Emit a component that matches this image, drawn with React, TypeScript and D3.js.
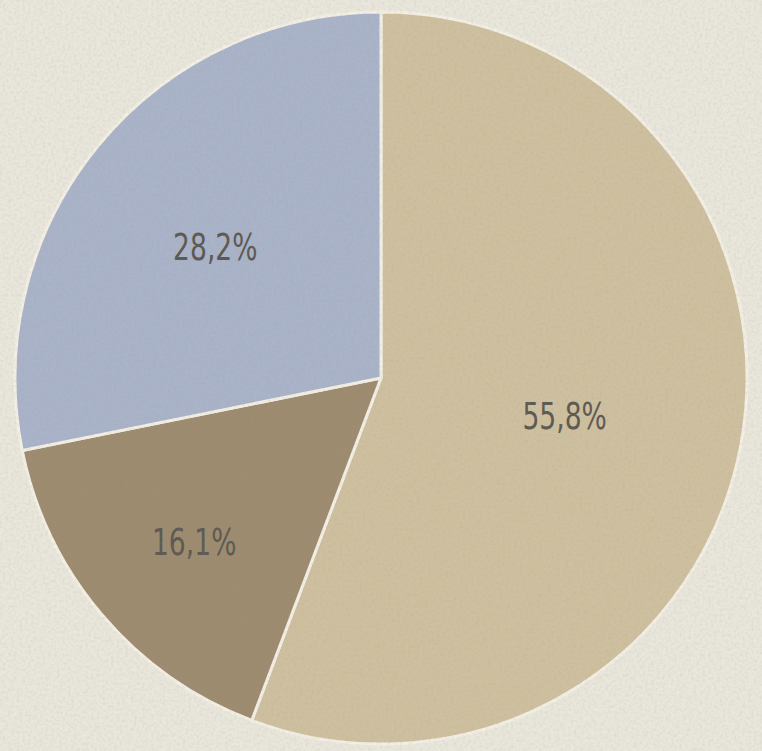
import React, { useRef, useEffect } from "react";
import * as d3 from "d3";

const labels = ["55,8%", "16,1%", "28,2%"];
const values = [55.8, 16.1, 28.2];
const colors = ["#cec09f", "#9d8b6f", "#a9b3c9"];
// how far out along each slice's middle the label sits (fraction of radius)
const labelRadius = [0.51, 0.67, 0.585];

const W = 762;
const H = 751;

export default function App() {
  const ref = useRef<SVGSVGElement>(null);

  useEffect(() => {
    if (!ref.current) return;
    const svg = d3.select(ref.current);
    svg.selectAll("*").remove();

    const cx = 381;
    const cy = 378;
    const r = 366;

    // paper texture
    const defs = svg.append("defs");
    const f = defs.append("filter").attr("id", "paper").attr("x", 0).attr("y", 0).attr("width", "100%").attr("height", "100%");
    f.append("feTurbulence").attr("type", "fractalNoise").attr("baseFrequency", 0.35).attr("numOctaves", 2).attr("seed", 4).attr("result", "n");
    f.append("feColorMatrix").attr("in", "n").attr("type", "matrix")
      .attr("values", "0 0 0 0 0.35  0 0 0 0 0.32  0 0 0 0 0.27  0 0 0 -0.9 0.55");
    f.append("feComposite").attr("in2", "SourceGraphic").attr("operator", "in");

    svg.append("rect").attr("width", W).attr("height", H).attr("fill", "#e9e6dc");

    const pie = d3.pie<number>().sort(null).value(d => d);
    const arcs = pie(values);
    const arc = d3.arc<d3.PieArcDatum<number>>().innerRadius(0).outerRadius(r);

    const g = svg.append("g").attr("transform", `translate(${cx},${cy})`);
    g.selectAll("path.slice")
      .data(arcs).enter().append("path")
      .attr("class", "slice")
      .attr("d", arc)
      .attr("fill", (_, i) => colors[i])
      .attr("stroke", "#f3efe4")
      .attr("stroke-width", 3)
      .attr("stroke-linejoin", "round");

    // texture over everything
    svg.append("rect").attr("width", W).attr("height", H).attr("fill", "#fff")
      .attr("filter", "url(#paper)").attr("opacity", 0.35);

    g.selectAll("text")
      .data(arcs).enter().append("text")
      .attr("transform", (d, i) => {
        const c = d3.arc<d3.PieArcDatum<number>>()
          .innerRadius(r * labelRadius[i]).outerRadius(r * labelRadius[i]).centroid(d);
        return `translate(${c[0]},${c[1] + 4}) scale(0.7,1)`;
      })
      .attr("text-anchor", "middle")
      .attr("dy", "0.36em")
      .style("font-family", "'DejaVu Sans', sans-serif")
      .style("font-size", "38px")
      .style("fill", "#5c5852")
      .text((_, i) => labels[i]);
  }, []);

  return (
    <div style={{ position: "fixed", left: 0, top: 0, width: W, height: H, overflow: "hidden" }}>
      <svg ref={ref} width={W} height={H} style={{ display: "block" }} />
    </div>
  );
}
